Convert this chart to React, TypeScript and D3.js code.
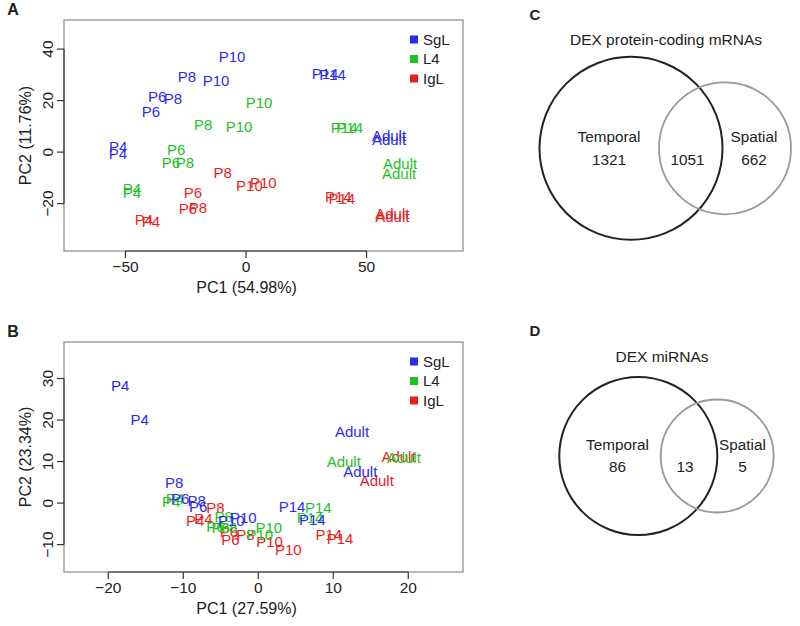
import React from "react";
import * as d3 from "d3";

const FONT = "'Liberation Sans', Arial, Helvetica, sans-serif";

// ---------- data ----------
const layers = ["SgL", "L4", "IgL"];
const layerColors = ["#2a2af2", "#1ec21e", "#ec1c1c"];
const timeLabels = ["P4", "P4", "P6", "P6", "P8", "P8", "P10", "P10", "P14", "P14", "Adult", "Adult"];

// Panel A: PCA of protein-coding mRNAs
const aSgLx = [-53.0, -53.1, -36.9, -39.4, -24.5, -30.3, -5.8, -12.4, 32.8, 35.9, 59.3, 59.3];
const aSgLy = [2.0, -0.5, 21.4, 15.9, 29.5, 20.6, 36.9, 27.6, 30.3, 30.0, 6.6, 4.7];
const aL4x = [-47.3, -47.3, -29.0, -31.1, -17.8, -25.3, 5.4, -2.9, 40.7, 43.0, 63.9, 63.5];
const aL4y = [-14.0, -15.9, 0.8, -3.9, 10.5, -3.9, 19.4, 10.1, 9.7, 9.7, -4.3, -8.2];
const aIgLx = [-42.3, -39.4, -22.0, -24.1, -9.7, -19.9, 1.4, 7.2, 38.3, 39.7, 60.7, 60.7];
const aIgLy = [-26.1, -27.1, -15.9, -21.8, -7.9, -21.6, -13.1, -11.9, -17.4, -18.0, -24.0, -24.9];

// Panel B: PCA of miRNAs
const bSgLx = [-18.4, -15.8, -10.4, -8.0, -11.2, -8.2, -3.6, -2.0, 4.5, 7.2, 12.5, 13.6];
const bSgLy = [28.2, 20.0, 1.0, -0.9, 5.0, 0.7, -4.3, -3.6, -0.8, -4.0, 17.2, 7.5];
const bL4x = [-11.6, -11.1, -5.7, -5.0, -4.6, -4.0, 1.4, 0.2, 8.0, 6.9, 11.4, 19.4];
const bL4y = [0.4, 1.1, -5.7, -5.9, -3.3, -5.8, -5.9, -7.5, -1.0, -3.5, 10.0, 11.0];
const bIgLx = [-8.4, -7.3, -3.7, -3.9, -5.7, -1.7, 1.5, 4.0, 9.4, 10.9, 18.7, 15.8];
const bIgLy = [-4.3, -3.7, -8.9, -6.8, -1.1, -7.5, -9.3, -11.3, -7.7, -8.5, 11.3, 5.4];

const aXTicks = [-50, 0, 50];
const aYTicks = [-20, 0, 20, 40];
const bXTicks = [-20, -10, 0, 10, 20];
const bYTicks = [-10, 0, 10, 20, 30];

// Venn diagrams
const vennTitles = ["DEX protein-coding mRNAs", "DEX miRNAs"];
const vennSetNames = ["Temporal", "Spatial"];
const vennTemporalOnly = [1321, 86];
const vennOverlap = [1051, 13];
const vennSpatialOnly = [662, 5];

type Pt = { x: number; y: number; label: string; layer: number };

function buildPoints(xs: number[][], ys: number[][]): Pt[] {
  const pts: Pt[] = [];
  // draw order: IgL, L4, SgL (SgL on top)
  [2, 1, 0].forEach((li) => {
    xs[li].forEach((x, i) => pts.push({ x, y: ys[li][i], label: timeLabels[i], layer: li }));
  });
  return pts;
}

type PanelProps = {
  letter: string;
  top: number;
  bottom: number;
  xDomain: [number, number];
  yDomain: [number, number];
  xTicks: number[];
  yTicks: number[];
  xTitle: string;
  yTitle: string;
  points: Pt[];
};

const LEFT = 64;
const RIGHT = 463;

function ScatterPanel(p: PanelProps) {
  const x = d3.scaleLinear().domain(p.xDomain).range([LEFT, RIGHT]);
  const y = d3.scaleLinear().domain(p.yDomain).range([p.bottom, p.top]);
  const tickLen = 7;
  const xt0 = x(p.xTicks[0]);
  const xt1 = x(p.xTicks[p.xTicks.length - 1]);
  const yt0 = y(p.yTicks[0]);
  const yt1 = y(p.yTicks[p.yTicks.length - 1]);
  const midY = (p.top + p.bottom) / 2;
  const legendX = 414;
  const legendY0 = p.top + 19.5;
  return (
    <g>
      <text x={13} y={p.top - 5} textAnchor="middle" fontSize={16} fontWeight="bold" fill="#222" fontFamily={FONT}>
        {p.letter}
      </text>
      <rect x={LEFT} y={p.top} width={RIGHT - LEFT} height={p.bottom - p.top} fill="none" stroke="#8a8a8a" strokeWidth={1.2} />
      {/* x axis */}
      <line x1={xt0} x2={xt1} y1={p.bottom} y2={p.bottom} stroke="#333" strokeWidth={1.2} />
      {p.xTicks.map((t) => (
        <g key={"xt" + t}>
          <line x1={x(t)} x2={x(t)} y1={p.bottom} y2={p.bottom + tickLen} stroke="#333" strokeWidth={1.2} />
          <text x={x(t)} y={p.bottom + 16} dy="0.35em" textAnchor="middle" fontSize={15.5} fill="#222" fontFamily={FONT}>
            {t < 0 ? "\u2212" + Math.abs(t) : t}
          </text>
        </g>
      ))}
      <text x={(LEFT + RIGHT) / 2 - 17} y={p.bottom + 36.5} dy="0.35em" textAnchor="middle" fontSize={16} fill="#222" fontFamily={FONT}>
        {p.xTitle}
      </text>
      {/* y axis */}
      <line x1={LEFT} x2={LEFT} y1={yt0} y2={yt1} stroke="#333" strokeWidth={1.2} />
      {p.yTicks.map((t) => (
        <g key={"yt" + t}>
          <line x1={LEFT} x2={LEFT - tickLen} y1={y(t)} y2={y(t)} stroke="#333" strokeWidth={1.2} />
          <text transform={`translate(${47.5},${y(t)}) rotate(-90)`} dy="0.35em" textAnchor="middle" fontSize={15.5} fill="#222" fontFamily={FONT}>
            {t < 0 ? "\u2212" + Math.abs(t) : t}
          </text>
        </g>
      ))}
      <text transform={`translate(${25.5},${midY}) rotate(-90)`} dy="0.35em" textAnchor="middle" fontSize={16} fill="#222" fontFamily={FONT}>
        {p.yTitle}
      </text>
      {/* points as text labels */}
      {p.points.map((d, i) => (
        <text key={"p" + i} x={x(d.x)} y={y(d.y)} dy="0.36em" textAnchor="middle" fontSize={15} fill={layerColors[d.layer]} fontFamily={FONT}>
          {d.label}
        </text>
      ))}
      {/* legend */}
      {layers.map((l, i) => (
        <g key={"lg" + l}>
          <rect x={legendX - 4} y={legendY0 + i * 19.5 - 4} width={8} height={8} fill={layerColors[i]} />
          <text x={legendX + 9} y={legendY0 + i * 19.5} dy="0.36em" fontSize={15} fill="#222" fontFamily={FONT}>
            {l}
          </text>
        </g>
      ))}
    </g>
  );
}

type VennLayout = {
  letterX: number; letterY: number; titleX: number; titleY: number;
  bigCx: number; cy: number; bigR: number; smallCx: number; smallR: number;
  tX: number; ovX: number; sX: number; nameY: number; numY: number;
};

const vennLayouts: VennLayout[] = [
  { letterX: 535, letterY: 15, titleX: 666, titleY: 39.5, bigCx: 631, cy: 148.3, bigR: 91.5, smallCx: 725, smallR: 66, tX: 609, ovX: 687.5, sX: 754, nameY: 136.7, numY: 159.5 },
  { letterX: 535, letterY: 330.7, titleX: 662, titleY: 356.7, bigCx: 638.3, cy: 456, bigR: 79, smallCx: 717.2, smallR: 56.5, tX: 617.5, ovX: 685, sX: 742.5, nameY: 444, numY: 466.7 },
];

function Venn({ i }: { i: number }) {
  const L = vennLayouts[i];
  const fmt = d3.format("d");
  const txt = (x: number, y: number, s: string, size = 15.3) => (
    <text x={x} y={y} dy="0.36em" textAnchor="middle" fontSize={size} fill="#222" fontFamily={FONT}>
      {s}
    </text>
  );
  return (
    <g>
      <text x={L.letterX} y={L.letterY} dy="0.36em" textAnchor="middle" fontSize={15} fontWeight="bold" fill="#222" fontFamily={FONT}>
        {i === 0 ? "C" : "D"}
      </text>
      {txt(L.titleX, L.titleY, vennTitles[i], 15.5)}
      <circle cx={L.bigCx} cy={L.cy} r={L.bigR} fill="none" stroke="#222" strokeWidth={2} />
      <circle cx={L.smallCx} cy={L.cy} r={L.smallR} fill="none" stroke="#9a9a9a" strokeWidth={1.8} />
      {txt(L.tX, L.nameY, vennSetNames[0])}
      {txt(L.tX, L.numY, fmt(vennTemporalOnly[i]))}
      {txt(L.ovX, L.numY, fmt(vennOverlap[i]))}
      {txt(L.sX, L.nameY, vennSetNames[1])}
      {txt(L.sX, L.numY, fmt(vennSpatialOnly[i]))}
    </g>
  );
}

export default function App() {
  const ptsA = buildPoints([aSgLx, aL4x, aIgLx], [aSgLy, aL4y, aIgLy]);
  const ptsB = buildPoints([bSgLx, bL4x, bIgLx], [bSgLy, bL4y, bIgLy]);
  return (
    <svg width={800} height={626} style={{ position: "absolute", left: 0, top: 0, background: "#fff" }}>
      <rect x={0} y={0} width={800} height={626} fill="#fff" />
      <ScatterPanel
        letter="A"
        top={20}
        bottom={251}
        xDomain={[-75.5, 90.0]}
        yDomain={[-38.4, 51.3]}
        xTicks={aXTicks}
        yTicks={aYTicks}
        xTitle="PC1 (54.98%)"
        yTitle="PC2 (11.76%)"
        points={ptsA}
      />
      <ScatterPanel
        letter="B"
        top={342}
        bottom={572}
        xDomain={[-25.9, 27.3]}
        yDomain={[-16.6, 38.8]}
        xTicks={bXTicks}
        yTicks={bYTicks}
        xTitle="PC1 (27.59%)"
        yTitle="PC2 (23.34%)"
        points={ptsB}
      />
      <Venn i={0} />
      <Venn i={1} />
    </svg>
  );
}
